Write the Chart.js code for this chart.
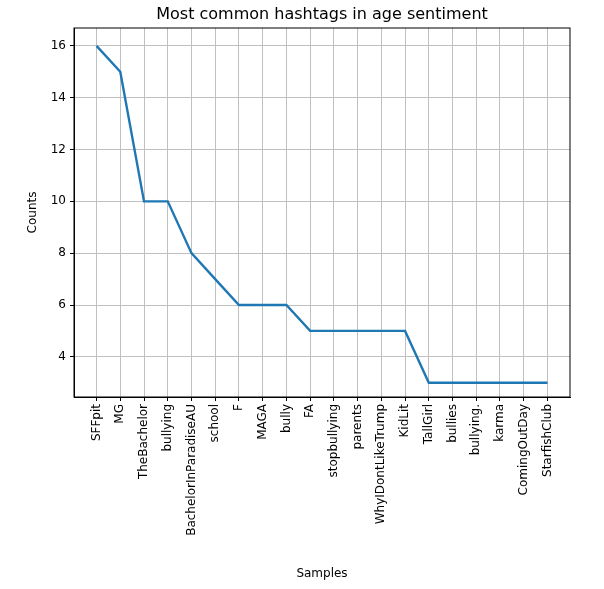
<!DOCTYPE html>
<html>
<head>
<meta charset="utf-8">
<script src="https://cdn.jsdelivr.net/npm/chart.js@4/dist/chart.umd.min.js"></script>
<style>
 body { margin: 0; background: #fff; }
 #wrap { width: 604px; height: 589px; }
</style>
</head>
<body>
<div id="wrap"><canvas id="freqChart"></canvas></div>
<script>
'use strict';

var samples = ['SFFpit', 'MG', 'TheBachelor', 'bullying', 'BachelorInParadiseAU', 'school', 'F', 'MAGA',
  'bully', 'FA', 'stopbullying', 'parents', 'WhyIDontLikeTrump', 'KidLit', 'TallGirl', 'bullies',
  'bullying.', 'karma', 'ComingOutDay', 'StarfishClub'];
var counts = [16, 15, 10, 10, 8, 7, 6, 6, 6, 5, 5, 5, 5, 5, 3, 3, 3, 3, 3, 3];
var yTicks = [4, 6, 8, 10, 12, 14, 16];
var chartTitle = 'Most common hashtags in age sentiment';

var points = samples.map(function (s, i) { return { x: i, y: counts[i] }; });
var font = { family: 'DejaVu Sans', size: 12 };

var ctx = document.getElementById('freqChart').getContext('2d');
new Chart(ctx, {
  type: 'line',
  data: {
    datasets: [{
      data: points,
      borderColor: '#1f77b4',
      borderWidth: 2.4,
      pointRadius: 0,
      tension: 0,
      fill: false
    }]
  },
  options: {
    responsive: true,
    maintainAspectRatio: false,
    animation: false,
    layout: { padding: { right: 34, left: 22, top: 28, bottom: 4 } },
    plugins: {
      legend: { display: false },
      tooltip: { enabled: false },
      title: { display: false }
    },
    scales: {
      x: {
        type: 'linear',
        min: -0.95,
        max: 19.95,
        afterBuildTicks: function (axis) {
          axis.ticks = samples.map(function (s, i) { return { value: i }; });
        },
        ticks: {
          autoSkip: false,
          maxRotation: 90,
          minRotation: 90,
          color: '#000',
          font: font,
          callback: function (v) { return samples[v]; }
        },
        grid: { color: '#c0c0c0', tickColor: '#000', tickLength: 4 },
        border: { color: '#000' },
        title: { display: true, text: 'Samples', color: '#000', font: font, padding: { top: 6 } },
        afterFit: function (axis) { axis.height = 188; }
      },
      y: {
        min: 2.45,
        max: 16.69,
        afterBuildTicks: function (axis) {
          axis.ticks = yTicks.map(function (v) { return { value: v }; });
        },
        ticks: { color: '#000', font: font, padding: 4 },
        grid: { color: '#c0c0c0', tickColor: '#000', tickLength: 4 },
        border: { color: '#000' },
        title: { display: true, text: 'Counts', color: '#000', font: font },
        afterFit: function (axis) { axis.width = 52; }
      }
    }
  },
  plugins: [{
    id: 'frame',
    afterDraw: function (chart) {
      var a = chart.chartArea, c = chart.ctx;
      c.save();
      c.strokeStyle = '#000';
      c.lineWidth = 1;
      c.strokeRect(a.left, a.top, a.right - a.left, a.bottom - a.top);
      c.fillStyle = '#000';
      c.font = '16px "DejaVu Sans"';
      c.textAlign = 'center';
      c.textBaseline = 'bottom';
      c.fillText(chartTitle, (a.left + a.right) / 2, a.top - 5);
      c.restore();
    }
  }]
});
</script>
</body>
</html>
